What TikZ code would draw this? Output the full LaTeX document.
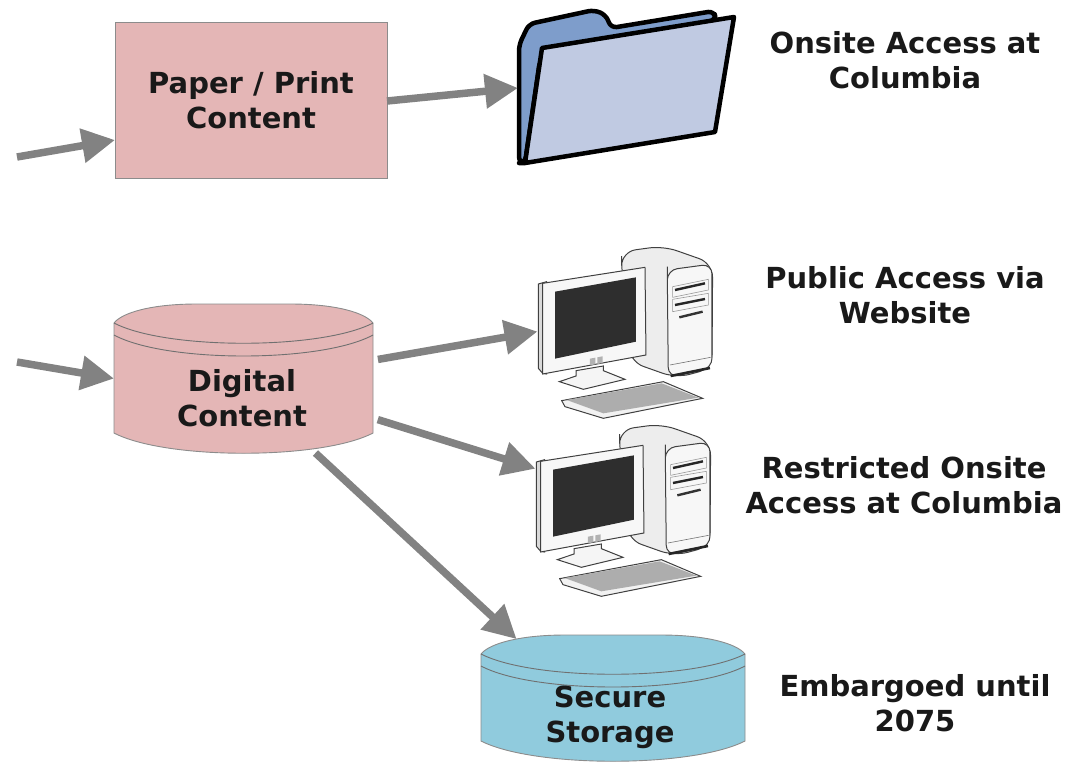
\documentclass[tikz,border=0pt]{standalone}
\usepackage{fontspec}
\setmainfont{DejaVu Sans}
\usetikzlibrary{arrows.meta}

\definecolor{paperpink}{HTML}{E4B6B6}
\definecolor{securecyan}{HTML}{90CBDD}
\definecolor{edgegray}{HTML}{8C8C8C}
\definecolor{flowgray}{HTML}{828282}
\definecolor{folderback}{HTML}{7E9DCB}
\definecolor{folderfront}{HTML}{C0CAE2}

% colour, left, right, top, bottom
\newcommand{\drawdrum}[5]{
    \pgfmathsetmacro{\drumw}{(#3)-(#2)}
    \draw[edgegray, fill=#1, line width=0.9pt]
        (#2,#4+19) .. controls (#2+0.03*\drumw,#4+9) and (#2+0.14*\drumw,#4) .. (#2+0.32*\drumw,#4)
        -- (#3-0.32*\drumw,#4) .. controls (#3-0.14*\drumw,#4) and (#3-0.03*\drumw,#4+9) .. (#3,#4+19)
        -- (#3,#5-20) .. controls (#3-0.2*\drumw,#5+7) and (#2+0.2*\drumw,#5+7) .. (#2,#5-20) -- cycle;
    \draw[edgegray!80!black, line width=0.9pt]
        (#2,#4+19) .. controls (#2+0.2*\drumw,#4+46) and (#3-0.2*\drumw,#4+46) .. (#3,#4+19);
    \draw[edgegray!80!black, line width=0.9pt]
        (#2,#4+31) .. controls (#2+0.2*\drumw,#4+59) and (#3-0.2*\drumw,#4+59) .. (#3,#4+31);
}

\tikzset{
    flow/.style={draw=flowgray, line width=7.5pt, -{Triangle[length=33pt,width=33pt]}},
    hitbox/.style={rectangle, inner sep=0pt, outer sep=0pt},
    boxtext/.style={align=center, font=\fontsize{29}{35}\selectfont\bfseries, text=black!90},
    sidetext/.style={align=center, font=\fontsize{29}{35}\selectfont\bfseries, text=black!90},
    computer/.pic={
        % tower
        \draw[black!75, fill=black!7, line width=1pt, rounded corners=14pt]
            (305,90) -- (305,35) -- (430,18) -- (578,70) -- (576,385) -- (468,414) -- (330,365) -- cycle;
        \draw[black!75, fill=black!3, line width=1pt, rounded corners=10pt]
            (442,110) -- (442,90) -- (576,72) -- (576,385) -- (445,412) -- cycle;
        \draw[black!40, line width=0.6pt] (458,140) -- (565,118) -- (565,150) -- (458,172) -- cycle;
        \draw[black!40, line width=0.6pt] (458,178) -- (565,160) -- (565,195) -- (458,215) -- cycle;
        \draw[black!85, line width=2.4pt] (465,150) -- (555,130);
        \draw[black!85, line width=2.4pt] (465,195) -- (555,177);
        \draw[black!80, line width=2.4pt] (478,232) -- (548,215);
        \draw[black!55, line width=0.6pt] (450,375) -- (572,352);
        \draw[black!85, line width=2.6pt] (452,408) -- (570,384);
        % stand
        \draw[black!75, fill=black!4, line width=1pt]
            (168,392) -- (250,378) -- (250,392) -- (315,418) -- (190,448) -- (118,425) -- (168,408) -- cycle;
        % monitor
        \draw[black!75, fill=black!15, line width=1pt]
            (55,132) -- (80,125) -- (80,402) -- (68,400) -- (55,385) -- cycle;
        \draw[black!75, fill=black!3, line width=1pt]
            (68,130) -- (375,82) -- (378,345) -- (68,402) -- cycle;
        \fill[black!82] (105,155) -- (348,112) -- (348,305) -- (105,356) -- cycle;
        \fill[black!30] (210,356) -- (226,353) -- (226,373) -- (210,376) -- cycle;
        \fill[black!30] (232,352) -- (248,349) -- (248,369) -- (232,372) -- cycle;
        % keyboard
        \draw[black!75, fill=black!5, line width=1pt]
            (125,482) -- (430,425) -- (548,475) -- (250,535) -- (135,500) -- cycle;
        \fill[black!32] (140,480) -- (425,430) -- (535,473) -- (250,520) -- cycle;
    }
}

\begin{document}
\begin{tikzpicture}[x=1pt, y=1pt, yscale=-1]
    \useasboundingbox (0,0) rectangle (1074,761);

    % paper route
    \node[hitbox, draw=edgegray, fill=paperpink, line width=0.9pt, minimum width=272pt, minimum height=156pt,
          boxtext] (paper) at (251,100) {Paper / Print\\Content};
    \node[hitbox, minimum width=217pt, minimum height=155pt] (folder) at (626.5,88) {};
    \draw[black, fill=folderback, line width=4.5pt, line join=round, rounded corners=6pt]
        (519,163) -- (519,45) -- (529,24) -- (594,10) -- (606,15) -- (611,28) -- (714,11) -- (716,20) -- (540,60) -- (525,163) -- cycle;
    \draw[black, fill=folderfront, line width=4.5pt, line join=round]
        (542,48) -- (734,17) -- (715,132) -- (525,163) -- cycle;
    \node[sidetext] (onsite) at (905,60) {Onsite Access at\\Columbia};

    % digital route
    \drawdrum{paperpink}{114}{373}{304}{453}
    \node[hitbox, minimum width=259pt, minimum height=149pt] (digital) at (243.5,378.5) {};
    \node[boxtext] (digitaltext) at (242,398) {Digital\\Content};

    \pic[xscale=0.3333, yscale=-0.3333] at (520,240) {computer};
    \node[hitbox, minimum width=175pt, minimum height=171pt] (public) at (625,331.5) {};
    \node[sidetext] (publictext) at (905,295) {Public Access via\\Website};

    \pic[xscale=0.3333, yscale=-0.3333] at (518,418) {computer};
    \node[hitbox, minimum width=175pt, minimum height=171pt] (restricted) at (623,509.5) {};
    \node[sidetext] (restrictedtext) at (904,485) {Restricted Onsite\\Access at Columbia};

    \drawdrum{securecyan}{481}{745}{635}{761}
    \node[hitbox, minimum width=264pt, minimum height=126pt] (secure) at (613,698) {};
    \node[boxtext] (securetext) at (610,717) {Secure\\Storage};
    \node[sidetext] (embargo) at (915,703) {Embargoed until\\2075};

    % free ends
    \coordinate (paperin) at (17,157);
    \coordinate (digitalin) at (17,362);

    \path[flow] (paperin) -- (paper.west |- 0,140);
    \path[flow] (paper.east |- 0,101) -- (folder.west);
    \path[flow] (digitalin) -- (digital.west);
    \path[flow, shorten <=5pt] (digital.8) -- (public.west);
    \path[flow, shorten <=5pt] (digital.-17) -- (restricted.155);
    \path[flow, shorten >=-6pt] (digital.-46) -- (secure.148);
\end{tikzpicture}
\end{document}
